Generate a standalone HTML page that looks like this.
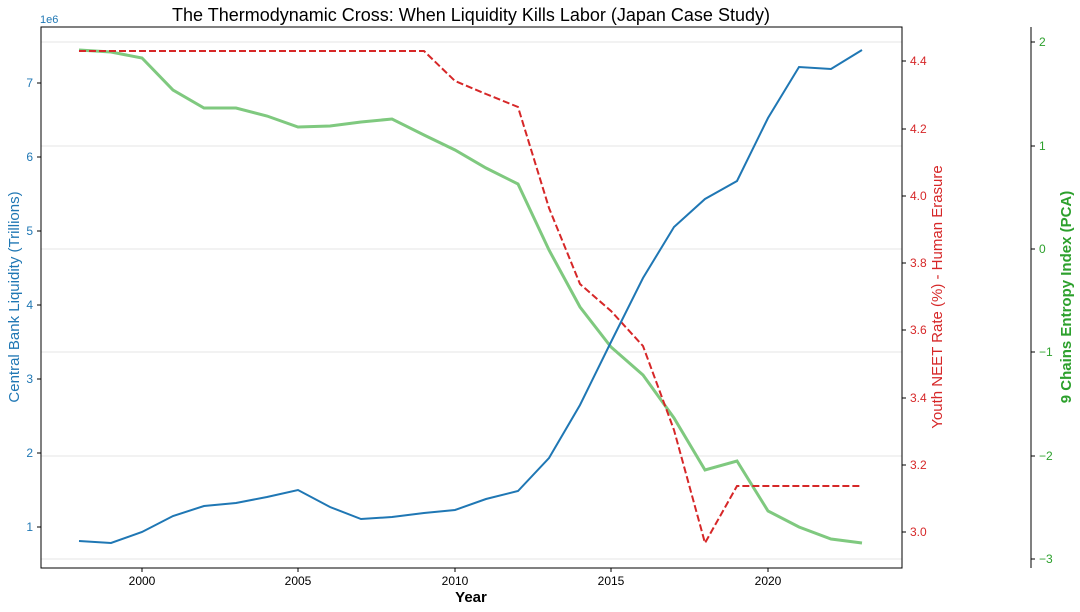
<!DOCTYPE html>
<html><head><meta charset="utf-8"><style>body{margin:0;background:#fff}svg{display:block;font-family:"Liberation Sans","DejaVu Sans",sans-serif}</style></head><body>
<svg width="1080" height="612" viewBox="0 0 1080 612">
<rect width="1080" height="612" fill="#fff"/>
<g stroke="#e6e6e6" stroke-width="1">
<line x1="41" x2="902" y1="42" y2="42"/><line x1="41" x2="902" y1="146" y2="146"/><line x1="41" x2="902" y1="249" y2="249"/><line x1="41" x2="902" y1="352" y2="352"/><line x1="41" x2="902" y1="456" y2="456"/><line x1="41" x2="902" y1="559" y2="559"/>
</g>
<polyline fill="none" stroke="#7fc97f" stroke-width="3" points="79,50 111,52 142,58 173,90 204,108 236,108 267,116 298,127 330,126 361,122 392,119 424,135 455,150 486,168 518,184 549,250 580,307 611,347 643,375 674,418 705,470 737,461 768,511 799,527 831,539 862,543"/>
<polyline fill="none" stroke="#d62728" stroke-width="2" stroke-dasharray="7,3" points="79,51 111,51 142,51 173,51 204,51 236,51 267,51 298,51 330,51 361,51 392,51 424,51 455,81 486,94 518,107 549,208 580,284 611,311 643,346 674,430 705,543 737,486 768,486 799,486 831,486 862,486"/>
<polyline fill="none" stroke="#1f77b4" stroke-width="2" points="79,541 111,543 142,532 173,516 204,506 236,503 267,497 298,490 330,507 361,519 392,517 424,513 455,510 486,499 518,491 549,458 580,405 611,342 643,278 674,227 705,199 737,181 768,118 799,67 831,69 862,50"/>
<rect x="41" y="27" width="861" height="541" fill="none" stroke="#000" stroke-width="1"/>
<line x1="1031" x2="1031" y1="27" y2="568" stroke="#000"/>
<g stroke="#000"><line x1="142" x2="142" y1="568" y2="572"/><line x1="298" x2="298" y1="568" y2="572"/><line x1="455" x2="455" y1="568" y2="572"/><line x1="611" x2="611" y1="568" y2="572"/><line x1="768" x2="768" y1="568" y2="572"/></g>
<g font-size="12" text-anchor="middle"><text x="142" y="585">2000</text><text x="298" y="585">2005</text><text x="455" y="585">2010</text><text x="611" y="585">2015</text><text x="768" y="585">2020</text></g>
<text x="471" y="602" font-size="15" font-weight="bold" text-anchor="middle">Year</text>
<g stroke="#000"><line x1="37" x2="41" y1="527" y2="527"/><line x1="37" x2="41" y1="453" y2="453"/><line x1="37" x2="41" y1="379" y2="379"/><line x1="37" x2="41" y1="305" y2="305"/><line x1="37" x2="41" y1="231" y2="231"/><line x1="37" x2="41" y1="157" y2="157"/><line x1="37" x2="41" y1="83" y2="83"/></g>
<g font-size="12" fill="#1f77b4" text-anchor="end"><text x="33" y="531">1</text><text x="33" y="457">2</text><text x="33" y="383">3</text><text x="33" y="309">4</text><text x="33" y="235">5</text><text x="33" y="161">6</text><text x="33" y="87">7</text></g>
<text x="40" y="23" font-size="11" fill="#1f77b4">1e6</text>
<text transform="translate(19,297) rotate(-90)" font-size="15" fill="#1f77b4" text-anchor="middle">Central Bank Liquidity (Trillions)</text>
<g stroke="#000"><line x1="902" x2="906" y1="532" y2="532"/><line x1="902" x2="906" y1="465" y2="465"/><line x1="902" x2="906" y1="398" y2="398"/><line x1="902" x2="906" y1="330" y2="330"/><line x1="902" x2="906" y1="263" y2="263"/><line x1="902" x2="906" y1="196" y2="196"/><line x1="902" x2="906" y1="129" y2="129"/><line x1="902" x2="906" y1="61" y2="61"/></g>
<g font-size="12" fill="#d62728"><text x="910" y="536">3.0</text><text x="910" y="469">3.2</text><text x="910" y="402">3.4</text><text x="910" y="334">3.6</text><text x="910" y="267">3.8</text><text x="910" y="200">4.0</text><text x="910" y="133">4.2</text><text x="910" y="65">4.4</text></g>
<text transform="translate(942,297) rotate(-90)" font-size="15" fill="#d62728" text-anchor="middle">Youth NEET Rate (%) - Human Erasure</text>
<g stroke="#000"><line x1="1031" x2="1035" y1="42" y2="42"/><line x1="1031" x2="1035" y1="146" y2="146"/><line x1="1031" x2="1035" y1="249" y2="249"/><line x1="1031" x2="1035" y1="352" y2="352"/><line x1="1031" x2="1035" y1="456" y2="456"/><line x1="1031" x2="1035" y1="559" y2="559"/></g>
<g font-size="12" fill="#2ca02c"><text x="1039" y="46">2</text><text x="1039" y="150">1</text><text x="1039" y="253">0</text><text x="1039" y="356">−1</text><text x="1039" y="460">−2</text><text x="1039" y="563">−3</text></g>
<text transform="translate(1071,297) rotate(-90)" font-size="15" font-weight="bold" fill="#2ca02c" text-anchor="middle">9 Chains Entropy Index (PCA)</text>
<text x="471" y="21" font-size="18" text-anchor="middle">The Thermodynamic Cross: When Liquidity Kills Labor (Japan Case Study)</text>
</svg>
</body></html>
